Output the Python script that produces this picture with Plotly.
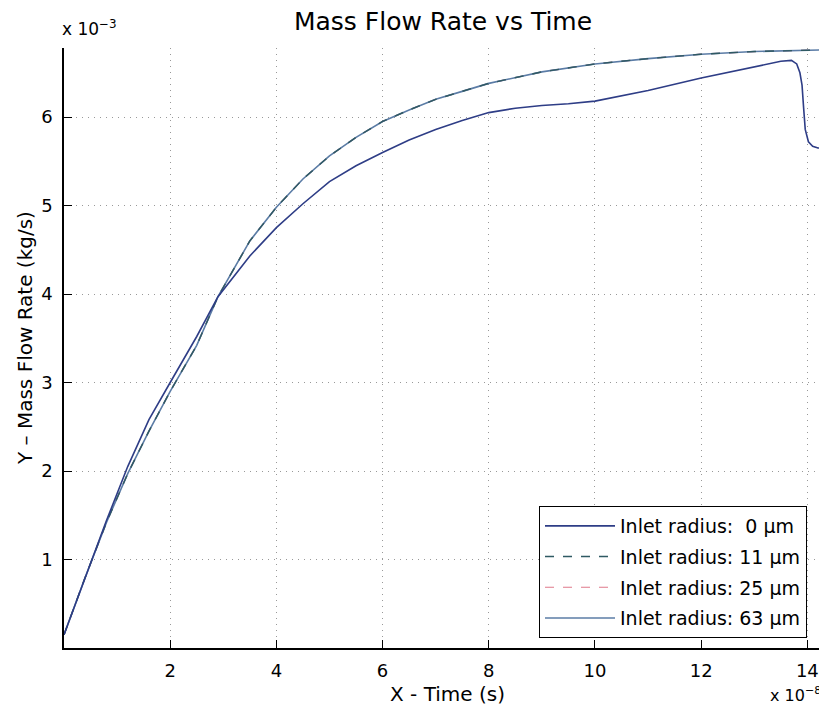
import plotly.graph_objects as go

# Time (x 1e-8 s)
t_0 = [0.0, 0.4, 0.8, 1.2, 1.6, 2.0, 2.5, 2.9, 3.5, 4.0, 4.5, 5.0, 5.5, 6.0, 6.5, 7.0, 7.5, 8.0, 8.5,
       9.0, 9.5, 10.0, 10.5, 11.0, 12.0, 13.0, 13.5, 13.7, 13.8, 13.86, 13.9, 13.93, 13.96, 14.02,
       14.1, 14.2, 14.37]
# Mass flow rate (x 1e-3 kg/s)
y_0 = [0.15, 0.8, 1.44, 2.05, 2.58, 3.0, 3.52, 3.97, 4.43, 4.75, 5.02, 5.27, 5.45, 5.6, 5.74, 5.86,
       5.96, 6.05, 6.1, 6.13, 6.15, 6.18, 6.24, 6.3, 6.44, 6.57, 6.63, 6.64, 6.6, 6.5, 6.36, 6.1,
       5.86, 5.72, 5.67, 5.65, 5.65]

t_up = [0.0, 0.4, 0.8, 1.2, 1.6, 2.0, 2.5, 2.9, 3.5, 4.0, 4.5, 5.0, 5.5, 6.0, 6.5, 7.0, 7.5, 8.0,
        9.0, 10.0, 11.0, 12.0, 13.0, 13.7, 14.37]
y_11 = [0.15, 0.8, 1.42, 1.97, 2.45, 2.9, 3.42, 3.97, 4.6, 4.98, 5.3, 5.56, 5.77, 5.95, 6.08, 6.2,
        6.29, 6.38, 6.51, 6.6, 6.66, 6.71, 6.74, 6.75, 6.76]
y_25 = [0.15, 0.8, 1.42, 1.97, 2.45, 2.9, 3.42, 3.97, 4.6, 4.98, 5.3, 5.56, 5.77, 5.95, 6.08, 6.2,
        6.29, 6.38, 6.51, 6.6, 6.66, 6.71, 6.74, 6.75, 6.76]
y_63 = [0.15, 0.8, 1.42, 1.97, 2.45, 2.9, 3.42, 3.97, 4.6, 4.98, 5.3, 5.56, 5.77, 5.95, 6.08, 6.2,
        6.29, 6.38, 6.51, 6.6, 6.66, 6.71, 6.74, 6.75, 6.76]

x_ticks = [2, 4, 6, 8, 10, 12, 14]
y_ticks = [1, 2, 3, 4, 5, 6]
names = ["Inlet radius:  0 µm", "Inlet radius: 11 µm", "Inlet radius: 25 µm", "Inlet radius: 63 µm"]

FONT = "DejaVu Sans"
OFF = 8  # page body margin offset

W, H = 827 - OFF, 713 - OFF

fig = go.Figure()
fig.add_trace(go.Scatter(x=t_up, y=y_25, mode="lines", name=names[2], legendrank=3, legendgroup="c",
                         line=dict(color="#e07a8a", width=1.2, dash="dash")))
fig.add_trace(go.Scatter(x=t_up, y=y_63, mode="lines", name=names[3], legendrank=4, legendgroup="d",
                         line=dict(color="#5b7ca6", width=1.6)))
fig.add_trace(go.Scatter(x=t_up, y=y_11, mode="lines", name=names[1], legendrank=2, legendgroup="b",
                         line=dict(color="#2f5a63", width=1.4, dash="dash")))
fig.add_trace(go.Scatter(x=t_0, y=y_0, mode="lines", name=names[0], legendrank=1, legendgroup="a",
                         line=dict(color="#2e3d86", width=1.6)))

axis_common = dict(
    showline=True, linecolor="black", linewidth=1.5, mirror=False,
    ticks="inside", ticklen=8, tickcolor="black", tickwidth=1,
    showgrid=True, gridcolor="#999999", gridwidth=1, griddash="1px,5px",
    zeroline=False, tickfont=dict(family=FONT, size=18, color="black"),
)

fig.update_xaxes(range=[0, 14.37], tickvals=x_ticks, ticktext=[str(v) for v in x_ticks],
                 ticklabelstandoff=6, **axis_common)
fig.update_yaxes(range=[0, 6.78], tickvals=y_ticks, ticktext=[str(v) for v in y_ticks],
                 ticklabelstandoff=6, **axis_common)

plot_top, plot_bottom, plot_left = 48, 648, 64
fig.update_layout(
    width=W, height=H,
    margin=dict(l=plot_left - OFF, r=0, t=plot_top - OFF, b=713 - plot_bottom),
    paper_bgcolor="white", plot_bgcolor="white",
    title=dict(text="Mass Flow Rate vs Time", x=(443 - OFF) / W, xanchor="center",
               y=1 - (21 - OFF) / H, yanchor="middle", yref="container",
               font=dict(family=FONT, size=25, color="black")),
    legend=dict(x=(807 - 64) / 763, y=(648 - 638) / 600, xanchor="right", yanchor="bottom",
                bgcolor="white", bordercolor="black", borderwidth=1, itemwidth=70, tracegroupgap=3,
                font=dict(family=FONT, size=19, color="black")),
    showlegend=True,
    annotations=[
        dict(text="X - Time (s)", xref="paper", yref="paper", x=(447 - 64) / 763, y=(648 - 694) / 600,
             xanchor="center", yanchor="middle", showarrow=False,
             font=dict(family=FONT, size=20, color="black")),
        dict(text="Y – Mass Flow Rate (kg/s)", xref="paper", yref="paper", x=(25 - 64) / 763,
             y=(648 - 338) / 600, xanchor="center", yanchor="middle", textangle=-90, showarrow=False,
             font=dict(family=FONT, size=20, color="black")),
        dict(text="x 10<sup>−3</sup>", xref="paper", yref="paper", x=(60 - 64) / 763, y=(648 - 28) / 600,
             xanchor="left", yanchor="middle", showarrow=False,
             font=dict(family=FONT, size=17, color="black")),
        dict(text="x 10<sup>−8</sup>", xref="paper", yref="paper", x=(823 - 64) / 763, y=(648 - 694) / 600,
             xanchor="right", yanchor="middle", showarrow=False,
             font=dict(family=FONT, size=16, color="black")),
    ],
)

fig.write_html("out.html")
